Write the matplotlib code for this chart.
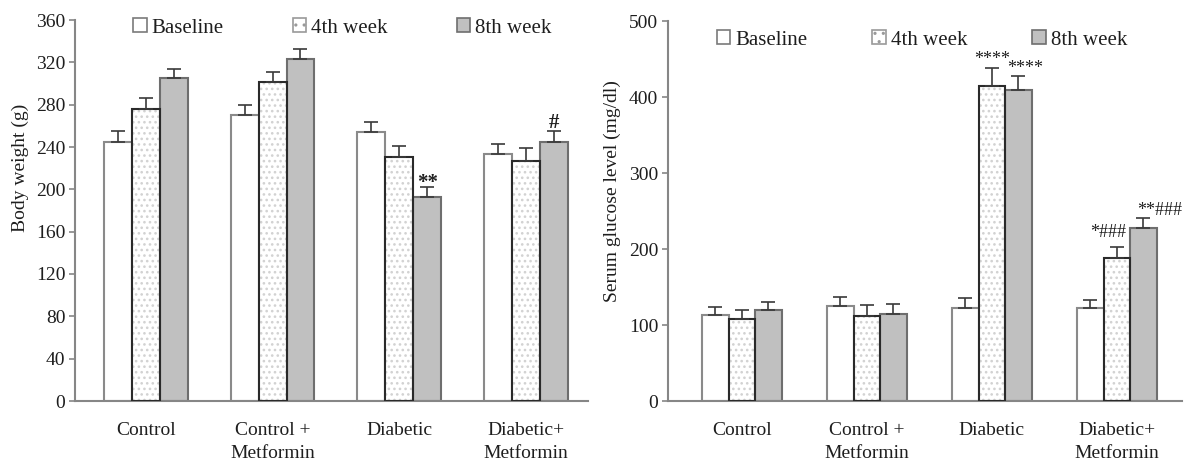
import numpy as np
import matplotlib
matplotlib.use('Agg')
import matplotlib.pyplot as plt
from matplotlib.patches import Patch

plt.rcParams['font.family'] = ['Liberation Serif', 'DejaVu Serif']
plt.rcParams['hatch.linewidth'] = 1.1

groups = ['Control', 'Control +\nMetformin', 'Diabetic', 'Diabetic+\nMetformin']
series = ['Baseline', '4th week', '8th week']

weight_base = [245, 270, 254, 233]
weight_base_err = [10, 10, 10, 9.5]
weight_wk4 = [276, 301, 231, 227]
weight_wk4_err = [10, 10, 10, 12]
weight_wk8 = [305, 323, 193, 245]
weight_wk8_err = [9, 10, 9.5, 10]

glucose_base = [113, 125, 123, 123]
glucose_base_err = [11, 12, 13, 10]
glucose_wk4 = [108, 112, 414, 188]
glucose_wk4_err = [12, 14, 24, 15]
glucose_wk8 = [120, 114, 409, 227]
glucose_wk8_err = [10, 13, 18, 14]

# (group, series, label, y)
weight_marks = [(2, 2, '**', 206), (3, 2, '#', 263)]
glucose_marks = [(2, 1, '****', 450), (2, 2, '****', 437),
                 (3, 1, '*###', 222), (3, 2, '**###', 251)]

text_c = '#1e1e1e'
spine_c = '#868686'
gray_fill = '#c0c0c0'


def draw_panel(ax, vals, errs, width, xlim, ylim, yticks, marks, mark_dx, leg_pos, colspace):
    x = np.arange(len(groups))
    offs = [-width, 0, width]
    for i, (v, e) in enumerate(zip(vals, errs)):
        xs = x + offs[i]
        if i == 0:
            ax.bar(xs, v, width, color='white', edgecolor='#8a8a8a', linewidth=1.5, zorder=2)
        elif i == 1:
            ax.bar(xs, v, width, color='white', edgecolor='#d2d2d2', hatch='...', linewidth=0, zorder=2)
            ax.bar(xs, v, width, fill=False, edgecolor='#2a2a2a', linewidth=1.5, zorder=3)
        else:
            ax.bar(xs, v, width, color=gray_fill, edgecolor='#6e6e6e', linewidth=1.5, zorder=2)
        ax.errorbar(xs, v, yerr=[np.zeros(len(e)), e], fmt='none', ecolor='#3a3a3a',
                    elinewidth=1.2, capsize=5, capthick=1.2, zorder=4)

    for g, s, lab, y in marks:
        big = lab in ('**', '#')
        ax.text(g + offs[s] + mark_dx.get((g, s), 0), y, lab, ha='center', va='center',
                fontsize=15 if big else 13, color=text_c,
                fontweight='bold' if big else 'normal')

    ax.set_xlim(*xlim)
    ax.set_ylim(*ylim)
    ax.set_yticks(yticks)
    ax.set_xticks(x)
    ax.set_xticklabels(groups, fontsize=14, color=text_c, linespacing=1.5)
    ax.tick_params(axis='x', length=0, pad=15)
    ax.tick_params(axis='y', length=4, width=1.2, color=spine_c, pad=3, labelsize=14, labelcolor=text_c)
    for sp in ['top', 'right']:
        ax.spines[sp].set_visible(False)
    for sp in ['left', 'bottom']:
        ax.spines[sp].set_color(spine_c)
        ax.spines[sp].set_linewidth(1.5)

    handles = [Patch(facecolor='white', edgecolor='#7a7a7a', linewidth=1.2),
               Patch(facecolor='white', edgecolor='#9a9a9a', hatch='..', linewidth=1.2),
               Patch(facecolor=gray_fill, edgecolor='#6e6e6e', linewidth=1.2)]
    ax.legend(handles, series, ncol=3, loc='center left', bbox_to_anchor=leg_pos,
              frameon=False, fontsize=15, handlelength=0.65, handleheight=0.65,
              handletextpad=0.25, columnspacing=colspace, borderpad=0, borderaxespad=0,
              labelcolor=text_c)
    return ax


fig = plt.figure(figsize=(11.91, 4.68), dpi=100)
ax1 = fig.add_axes([75 / 1191, 67 / 468, 513 / 1191, 381 / 468])
ax2 = fig.add_axes([668 / 1191, 67 / 468, 514 / 1191, 380 / 468])

draw_panel(ax1, [weight_base, weight_wk4, weight_wk8],
           [weight_base_err, weight_wk4_err, weight_wk8_err],
           0.22, (-0.56, 3.49), (0, 360), np.arange(0, 361, 40),
           weight_marks, {}, (0.113, 0.979), 3.3)
draw_panel(ax2, [glucose_base, glucose_wk4, glucose_wk8],
           [glucose_base_err, glucose_wk4_err, glucose_wk8_err],
           0.212, (-0.59, 3.52), (0, 500), np.arange(0, 501, 100),
           glucose_marks, {(2, 2): 0.05, (3, 1): -0.07, (3, 2): 0.13}, (0.095, 0.95), 3.1)

fig.text(20 / 1191, 1 - 168 / 468, 'Body weight (g)', rotation=90, ha='center', va='center',
         fontsize=14, color=text_c)
fig.text(612 / 1191, 1 - 191 / 468, 'Serum glucose level (mg/dl)', rotation=90, ha='center',
         va='center', fontsize=14, color=text_c)

fig.savefig('out.png', dpi=100)
